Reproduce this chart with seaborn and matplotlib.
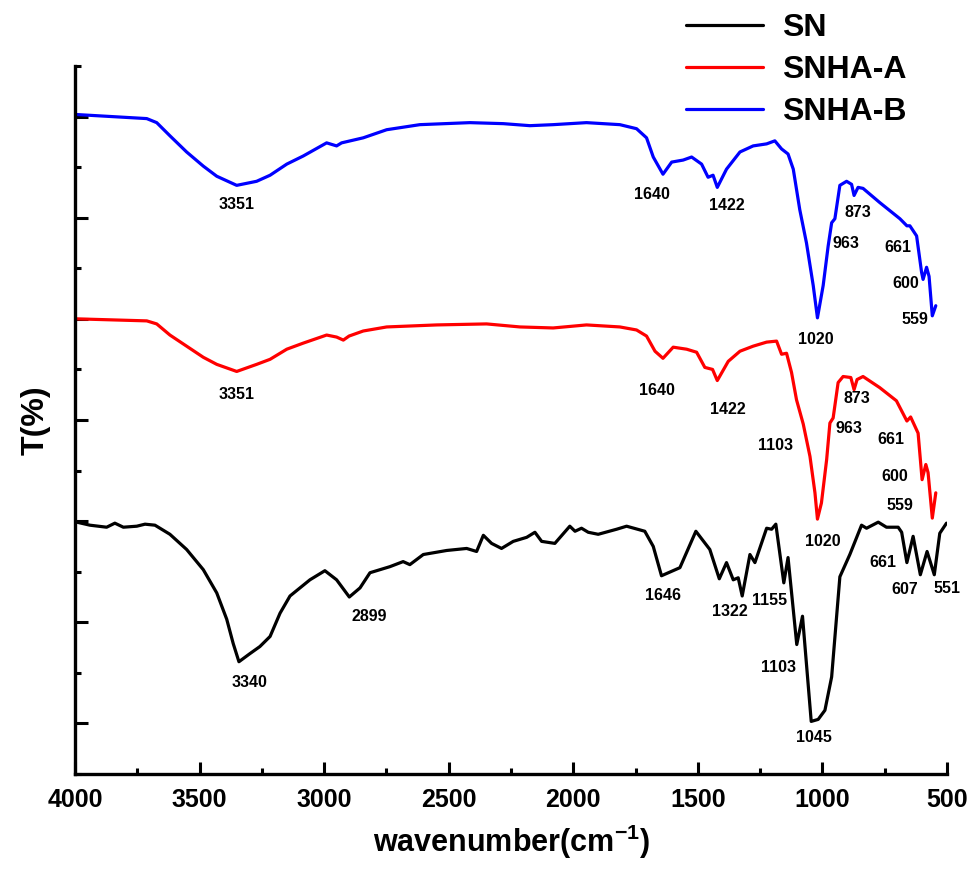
import numpy as np
import pandas as pd
import matplotlib
matplotlib.use("Agg")
import matplotlib.pyplot as plt
import seaborn as sns
from matplotlib.ticker import MultipleLocator

# ---------------- data ----------------
sn_w = [3993, 3940, 3873, 3840, 3806, 3752, 3719, 3679, 3619, 3552, 3485, 3431, 3391, 3365, 3342,
        3298, 3258, 3217, 3177, 3137, 3057, 2997, 2950, 2899, 2856, 2816, 2736, 2683, 2656, 2602,
        2508, 2428, 2388, 2361, 2328, 2288, 2241, 2187, 2154, 2127, 2074, 2014, 1993, 1967, 1940,
        1900, 1826, 1786, 1713, 1679, 1646, 1572, 1508, 1452, 1414, 1385, 1358, 1338, 1322, 1291,
        1271, 1224, 1204, 1187, 1155, 1138, 1103, 1080, 1045, 1017, 990, 963, 930, 890, 843, 823,
        776, 743, 696, 682, 661, 636, 607, 580, 551, 529, 502]
sn_t = [2.49, 2.46, 2.44, 2.48, 2.44, 2.45, 2.47, 2.46, 2.37, 2.22, 2.02, 1.79, 1.53, 1.29, 1.11,
        1.19, 1.26, 1.36, 1.59, 1.76, 1.92, 2.01, 1.92, 1.75, 1.84, 1.99, 2.05, 2.10, 2.07, 2.17,
        2.21, 2.23, 2.20, 2.36, 2.28, 2.23, 2.30, 2.34, 2.39, 2.30, 2.28, 2.45, 2.40, 2.43, 2.39,
        2.37, 2.42, 2.45, 2.40, 2.25, 1.96, 2.04, 2.40, 2.22, 1.93, 2.09, 1.92, 1.94, 1.76, 2.17,
        2.09, 2.43, 2.42, 2.47, 1.89, 2.14, 1.28, 1.56, 0.52, 0.54, 0.63, 0.96, 1.95, 2.17, 2.46, 2.43,
        2.49, 2.44, 2.44, 2.39, 2.09, 2.35, 1.97, 2.20, 1.97, 2.38, 2.48]

a_w = [3993, 3712, 3672, 3619, 3552, 3485, 3431, 3351, 3271, 3217, 3150, 3084, 2990, 2950, 2923,
       2900, 2843, 2749, 2548,
       2348, 2214, 2081, 1947, 1813, 1746, 1706, 1672, 1640, 1599, 1545, 1505, 1472, 1441, 1422,
       1378, 1331, 1278, 1224, 1184, 1164, 1144, 1124, 1104, 1077, 1050, 1030, 1020, 1004, 983,
       970, 957, 937, 917, 886, 873, 861, 837, 770, 703, 661, 646, 616, 600, 585, 576, 559, 545]
a_t = [4.50, 4.48, 4.45, 4.34, 4.23, 4.12, 4.05, 3.98, 4.05, 4.10, 4.20, 4.26, 4.34, 4.32, 4.29,
       4.33, 4.38, 4.42, 4.44,
       4.45, 4.42, 4.41, 4.44, 4.42, 4.39, 4.33, 4.18, 4.11, 4.22, 4.20, 4.17, 4.02, 4.00, 3.89,
       4.08, 4.18, 4.23, 4.27, 4.28, 4.15, 4.16, 3.97, 3.70, 3.46, 3.14, 2.78, 2.52, 2.68, 3.11,
       3.47, 3.52, 3.87, 3.93, 3.92, 3.80, 3.90, 3.93, 3.82, 3.69, 3.49, 3.53, 3.37, 2.91, 3.06,
       2.98, 2.53, 2.78]

b_w = [3993, 3712, 3672, 3619, 3552, 3485, 3431, 3351, 3271, 3217, 3150, 3084, 2990, 2950, 2930,
       2843, 2749, 2616, 2415,
       2281, 2174, 2081, 1947, 1813, 1746, 1706, 1679, 1640, 1605, 1559, 1525, 1485, 1459, 1439,
       1422, 1385, 1331, 1278, 1224, 1191, 1164, 1138, 1117, 1091, 1064, 1037, 1020, 997, 977,
       963, 950, 930, 903, 883, 873, 857, 837, 770, 689, 661, 649, 622, 602, 596, 582, 572, 559, 545]
b_t = [6.52, 6.48, 6.44, 6.31, 6.15, 6.01, 5.91, 5.82, 5.86, 5.92, 6.03, 6.11, 6.24, 6.21, 6.24,
       6.29, 6.37, 6.42, 6.44,
       6.43, 6.41, 6.42, 6.44, 6.42, 6.38, 6.29, 6.10, 5.93, 6.05, 6.07, 6.10, 6.03, 5.90, 5.92,
       5.80, 5.98, 6.15, 6.21, 6.23, 6.26, 6.18, 6.13, 5.98, 5.58, 5.25, 4.83, 4.51, 4.83, 5.22,
       5.45, 5.49, 5.82, 5.86, 5.83, 5.72, 5.80, 5.79, 5.65, 5.49, 5.42, 5.42, 5.32, 4.96, 4.89,
       5.01, 4.92, 4.53, 4.63]

series_names = ["SN", "SNHA-A", "SNHA-B"]
series_colors = ["#000000", "#ff0000", "#0000ff"]

# peak labels: (text, x, y)
sn_labels = [("3340", 3301, 0.90), ("2899", 2819, 1.56), ("1646", 1639, 1.76), ("1322", 1371, 1.61),
             ("1155", 1211, 1.72), ("1103", 1178, 1.05), ("1045", 1033, 0.36), ("661", 756, 2.09),
             ("607", 669, 1.82), ("551", 502, 1.83)]
a_labels = [("3351", 3351, 3.75), ("1640", 1666, 3.79), ("1422", 1378, 3.60), ("1103", 1188, 3.25),
            ("963", 893, 3.42), ("873", 863, 3.71), ("661", 727, 3.31), ("600", 709, 2.94),
            ("559", 689, 2.65), ("1020", 1000, 2.30)]
b_labels = [("3351", 3351, 5.63), ("1640", 1683, 5.73), ("1422", 1385, 5.62), ("873", 857, 5.55),
            ("963", 907, 5.25), ("661", 699, 5.21), ("600", 665, 4.85), ("1020", 1026, 4.30),
            ("559", 629, 4.49)]

x_ticks = [4000, 3500, 3000, 2500, 2000, 1500, 1000, 500]

# ---------------- build table ----------------
df = pd.concat([
    pd.DataFrame({"wavenumber": sn_w, "T": sn_t, "sample": "SN"}),
    pd.DataFrame({"wavenumber": a_w, "T": a_t, "sample": "SNHA-A"}),
    pd.DataFrame({"wavenumber": b_w, "T": b_t, "sample": "SNHA-B"}),
], ignore_index=True)

# ---------------- style ----------------
sns.set_style("ticks")
plt.rcParams["font.family"] = ["Liberation Sans", "DejaVu Sans"]
plt.rcParams["font.weight"] = "bold"
plt.rcParams["text.color"] = "black"
plt.rcParams["axes.labelcolor"] = "black"
plt.rcParams["xtick.color"] = "black"
plt.rcParams["ytick.color"] = "black"
plt.rcParams["mathtext.fontset"] = "custom"
plt.rcParams["mathtext.rm"] = "Liberation Sans:bold"
plt.rcParams["mathtext.bf"] = "Liberation Sans:bold"
plt.rcParams["mathtext.default"] = "bf"

fig = plt.figure(figsize=(9.76, 8.77), dpi=100)
ax = fig.add_axes([75 / 976, 103 / 877, 872 / 976, 708 / 877])

sns.lineplot(data=df, x="wavenumber", y="T", hue="sample", hue_order=series_names,
             palette=dict(zip(series_names, series_colors)), sort=False, estimator=None,
             linewidth=2.3, legend=False, ax=ax)

for labels in (sn_labels, a_labels, b_labels):
    for txt, xx, yy in labels:
        ax.text(xx, yy, txt, ha="center", va="center", fontsize=11.5, fontweight="bold",
                color="black")

ax.set_xlim(4000, 500)
ax.set_ylim(0, 7)
ax.set_xticks(x_ticks)
ax.set_xticklabels([str(t) for t in x_ticks])
ax.xaxis.set_minor_locator(MultipleLocator(250))
ax.set_yticks(np.arange(0.5, 7, 1.0))
ax.yaxis.set_minor_locator(MultipleLocator(1.0))
ax.set_yticklabels([])

for side in ("top", "right"):
    ax.spines[side].set_visible(False)
for side in ("left", "bottom"):
    ax.spines[side].set_linewidth(2.4)
    ax.spines[side].set_color("black")

ax.tick_params(axis="both", which="major", direction="in", length=9, width=2.2, color="black")
ax.tick_params(axis="both", which="minor", direction="in", length=4.5, width=2.2, color="black")
ax.tick_params(axis="x", which="major", labelsize=18, pad=10, labelcolor="black")
for lab in ax.get_xticklabels():
    lab.set_fontweight("bold")

ax.set_xlabel(r"wavenumber(cm$^{-1}$)", fontsize=22, fontweight="bold", labelpad=8, color="black")
ax.set_ylabel("T(%)", fontsize=23, fontweight="bold", labelpad=14, color="black")

handles = ax.get_lines()[:3]
leg = fig.legend(handles, series_names, loc="upper left", bbox_to_anchor=(686 / 976, 0.985),
                 frameon=False, prop={"weight": "bold", "size": 23},
                 handlelength=2.4, handletextpad=0.6, labelspacing=0.38, borderpad=0,
                 borderaxespad=0)
for t in leg.get_texts():
    t.set_color("black")

fig.savefig("out.png", dpi=100)
